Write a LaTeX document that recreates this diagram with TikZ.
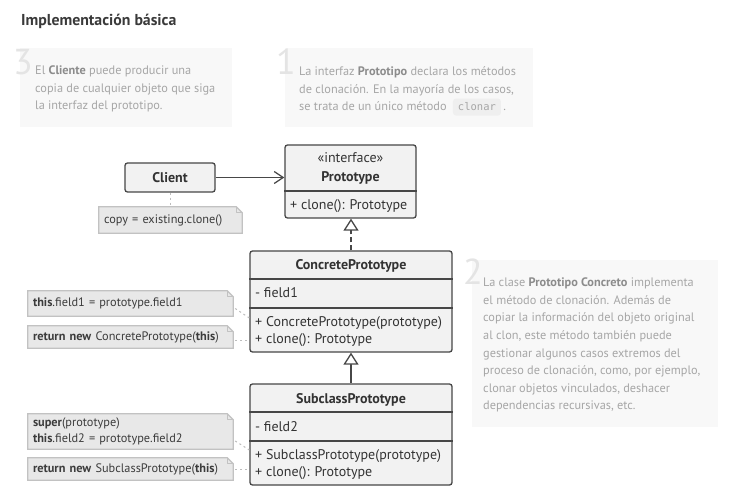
\documentclass[tikz,border=0pt]{standalone}
\usepackage{fontspec}
\setmainfont{PT Sans}
\newfontfamily\monof{DejaVu Sans Mono}
\usetikzlibrary{arrows.meta,calc}
\pgfdeclarelayer{bg}
\pgfsetlayers{bg,main}
\definecolor{clsline}{HTML}{474747}
\definecolor{clsfill}{HTML}{F2F2F2}
\definecolor{clstext}{HTML}{333333}
\definecolor{notefill}{HTML}{E8E8E8}
\definecolor{noteline}{HTML}{C2C2C2}
\definecolor{notetext}{HTML}{3C3C3C}
\definecolor{annotbg}{HTML}{F8F8F8}
\definecolor{annottext}{HTML}{A6A6A6}
\definecolor{annotbold}{HTML}{8C8C8C}
\definecolor{digitcol}{HTML}{E4E4E4}
\definecolor{conncol}{HTML}{BDBDBD}
\definecolor{codebg}{HTML}{EFEFEF}
\definecolor{titlecol}{HTML}{3A3A3A}
\newcommand\ab[1]{{\bfseries\color{annotbold}#1}}
\begin{document}
\begin{tikzpicture}[x=1pt,y=-1pt,
  titlestyle/.style={font=\bfseries\fontsize{15.8}{18}\selectfont, text=titlecol, inner sep=0pt, anchor=base west},
  annotbox/.style={fill=annotbg, inner sep=0pt, anchor=north west},
  digit/.style={font=\fontsize{36}{36}\selectfont, text=digitcol, inner sep=0pt, anchor=base west},
  annot/.style={font=\fontsize{12.3}{14}\selectfont, text=annottext, inner sep=0pt, anchor=base west},
  code/.style={font=\monof\fontsize{10.5}{12}\selectfont, text=annottext, fill=codebg, rounded corners=3pt, inner xsep=5pt, inner ysep=0pt, minimum height=17pt, anchor=base west},
  clsbox/.style={draw=clsline, fill=clsfill, line width=1.3pt, rounded corners=2.5pt, inner sep=0pt},
  clstxt/.style={font=\fontsize{14}{16}\selectfont, text=clstext, inner sep=0pt, anchor=base west},
  clstitle/.style={font=\bfseries\fontsize{14}{16}\selectfont, text=clstext, inner sep=0pt, anchor=base},
  divider/.style={draw=clsline, line width=1.3pt},
  notebox/.style={text width=#1, inner xsep=5pt, inner ysep=0pt, align=left, font=\fontsize{12.3}{16}\selectfont, text=notetext},
  noteshape/.style={draw=noteline, fill=notefill, line width=1.2pt},
  conn/.style={draw=conncol, line width=1pt, dash pattern=on 2pt off 3pt},
  assoc/.style={draw=clsline, line width=1.3pt, -{Straight Barb[length=9pt,width=12pt,line width=1.3pt]}},
  realize/.style={draw=clsline, line width=1.3pt, dash pattern=on 5pt off 3pt, -{Triangle[length=12pt,width=15pt,fill=white,line width=1.3pt]}},
  inherit/.style={draw=clsline, line width=1.3pt, -{Triangle[length=12pt,width=15pt,fill=white,line width=1.3pt]}}
]
\useasboundingbox (0,0) rectangle (749,502);
\begin{pgfonlayer}{bg}
\fill[white] (0,0) rectangle (749,502);
\end{pgfonlayer}

% title
\node[titlestyle] (title) at (21,25.5) {Implementación básica};

% annotation 3
\node[annotbox, minimum width=212pt, minimum height=79pt] (a3) at (20,48) {};
\node[digit] (d3) at (13,75) {3};
\node[annot] (t3a) at (35,75) {El \ab{Cliente} puede producir una};
\node[annot] (t3b) at (35,92.5) {copia de cualquier objeto que siga};
\node[annot] (t3c) at (35,110) {la interfaz del prototipo.};

% annotation 1
\node[annotbox, minimum width=248pt, minimum height=79pt] (a1) at (285,48) {};
\node[digit] (d1) at (276,75) {1};
\node[annot] (t1a) at (299,76) {La interfaz \ab{Prototipo} declara los métodos};
\node[annot] (t1b) at (299,93.5) {de clonación. En la mayoría de los casos,};
\node[annot] (t1c) at (299,111) {se trata de un único método};
\node[code] (clonar) at ([xshift=6pt]t1c.base east) {clonar};
\node[annot] (t1d) at ([xshift=2pt]clonar.base east) {.};

% annotation 2
\node[annotbox, minimum width=246pt, minimum height=167pt] (a2) at (472,260) {};
\node[digit] (d2) at (463,285) {2};
\node[annot] (t2a) at (483,287) {La clase \ab{Prototipo Concreto} implementa};
\node[annot] (t2b) at (483,304.5) {el método de clonación. Además de};
\node[annot] (t2c) at (483,322) {copiar la información del objeto original};
\node[annot] (t2d) at (483,339.5) {al clon, este método también puede};
\node[annot] (t2e) at (483,357) {gestionar algunos casos extremos del};
\node[annot] (t2f) at (483,374.5) {proceso de clonación, como, por ejemplo,};
\node[annot] (t2g) at (483,392) {clonar objetos vinculados, deshacer};
\node[annot] (t2h) at (483,409.5) {dependencias recursivas, etc.};

% Client
\node[clsbox, minimum width=90pt, minimum height=29pt] (client) at (170,177.5) {};
\node[clstitle] (clientT) at (170,182.5) {Client};

% Prototype
\node[clsbox, minimum width=131pt, minimum height=73pt] (proto) at (350.5,181.5) {};
\node[clstxt, anchor=base] (protoS) at (350.5,162.5) {«interface»};
\node[clstitle] (protoT) at (350.5,181.5) {Prototype};
\draw[divider] (proto.west |- 0,191) -- (proto.east |- 0,191);
\node[clstxt] (protoM) at (290,209.5) {+ clone(): Prototype};

% ConcretePrototype
\node[clsbox, minimum width=202pt, minimum height=101pt] (cp) at (351,301.5) {};
\node[clstitle] (cpT) at (351,270) {ConcretePrototype};
\draw[divider] (cp.west |- 0,279) -- (cp.east |- 0,279);
\node[clstxt] (cpF) at (255,298) {- field1};
\draw[divider] (cp.west |- 0,308) -- (cp.east |- 0,308);
\node[clstxt] (cpM1) at (255,326.5) {+ ConcretePrototype(prototype)};
\node[clstxt] (cpM2) at (255,343.5) {+ clone(): Prototype};

% SubclassPrototype
\node[clsbox, minimum width=202pt, minimum height=101pt] (sp) at (351,434.5) {};
\node[clstitle] (spT) at (351,403) {SubclassPrototype};
\draw[divider] (sp.west |- 0,412) -- (sp.east |- 0,412);
\node[clstxt] (spF) at (255,431) {- field2};
\draw[divider] (sp.west |- 0,441) -- (sp.east |- 0,441);
\node[clstxt] (spM1) at (255,459.5) {+ SubclassPrototype(prototype)};
\node[clstxt] (spM2) at (255,476.5) {+ clone(): Prototype};

% notes
\node[notebox=133pt, minimum height=26pt] (ncopy) at (170.5,220) {copy = existing.clone()};
\node[notebox=195pt, minimum height=25pt] (nA) at (130.5,303.5) {\textbf{this}.field1 = prototype.field1};
\node[notebox=195pt, minimum height=22pt] (nB) at (130.5,337) {\textbf{return new} ConcretePrototype(\textbf{this})};
\node[notebox=195pt, minimum height=35pt] (nC) at (130.5,431.5) {\textbf{super}(prototype)\\\textbf{this}.field2 = prototype.field2};
\node[notebox=195pt, minimum height=22pt] (nD) at (130.5,469) {\textbf{return new} SubclassPrototype(\textbf{this})};
\begin{pgfonlayer}{bg}
\foreach \n in {ncopy,nA,nB,nC,nD}{
  \path[noteshape] (\n.north west) -- ([xshift=-6pt]\n.north east) -- ([yshift=-6pt]\n.north east) -- (\n.south east) -- (\n.south west) -- cycle;
  \draw[noteshape, fill=none, line join=round] ([xshift=-6pt]\n.north east) -- ([xshift=-6pt,yshift=-6pt]\n.north east) -- ([yshift=-6pt]\n.north east);
}
\end{pgfonlayer}

% connectors
\draw[assoc] (client.east) -- (client.east -| proto.west);
\draw[realize] (cp.north) -- (cp.north |- proto.south);
\draw[inherit] (sp.north) -- (sp.north |- cp.south);
\draw[conn] (client.south) -- (client.south |- ncopy.north);
\coordinate (cpA) at (cp.west |- 0,318);
\coordinate (spA) at (sp.west |- 0,450);
\draw[conn] ([xshift=2pt,yshift=-5pt]nA.east) -- (cpA);
\draw[conn] ([xshift=2pt,yshift=-3pt]nB.east) -- ([yshift=-3pt]nB.east -| cp.west);
\draw[conn] ([xshift=2pt,yshift=-9.5pt]nC.east) -- (spA);
\draw[conn] ([xshift=2pt]nD.east) -- (nD.east -| sp.west);
\end{tikzpicture}
\end{document}
